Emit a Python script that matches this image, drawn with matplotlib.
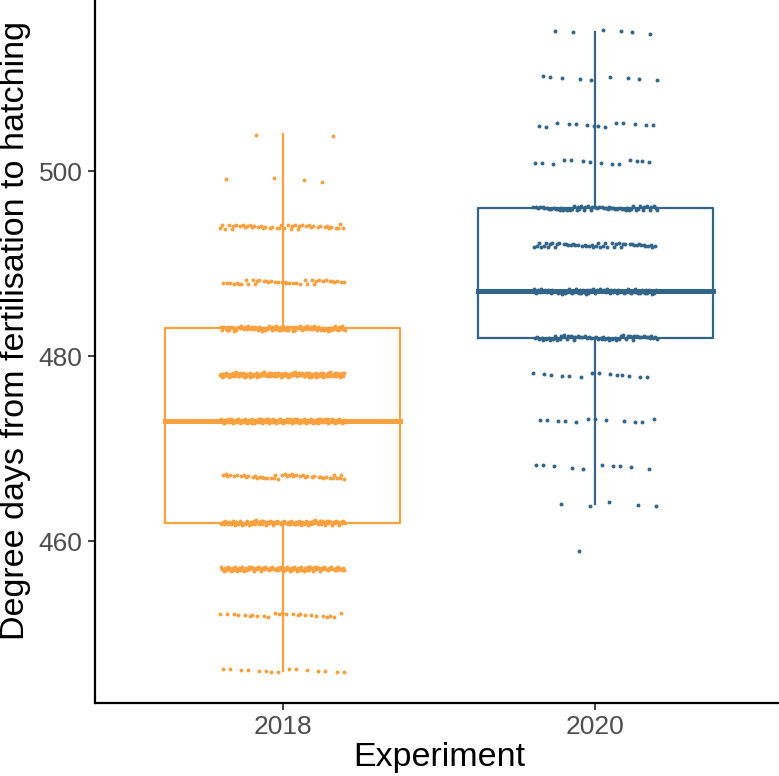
import numpy as np
import matplotlib
matplotlib.use("Agg")
import matplotlib.pyplot as plt

plt.rcParams['font.family'] = ['Liberation Sans', 'DejaVu Sans']

# 各年份的观测值（离散的积温水平）及每个水平的个数
experiments = ["2018", "2020"]
levels_2018 = [446, 452, 457, 462, 467, 473, 478, 483, 488, 494, 499, 504]
counts_2018 = [15, 25, 90, 90, 45, 130, 120, 90, 40, 45, 4, 2]
levels_2020 = [459, 464, 468, 473, 478, 482, 487, 492, 496, 501, 505, 510, 515]
counts_2020 = [1, 5, 10, 12, 14, 60, 80, 50, 60, 14, 14, 9, 6]

# 箱线图统计量：下须、Q1、中位数、Q3、上须
box_2018 = [446, 462, 473, 483, 504]
box_2020 = [464, 482, 487, 496, 515]

colors = ["#F9A03F", "#33658A"]

vals_2018 = np.repeat(levels_2018, counts_2018)
vals_2020 = np.repeat(levels_2020, counts_2020)

fig = plt.figure(figsize=(7.79, 7.76), dpi=100)
ax = fig.add_axes([95 / 779, 73 / 776, 688 / 779, 746 / 776])


def spread(n, phi):
    # 确定性的抖动序列，取值范围 (-0.5, 0.5)
    return (np.arange(n) * phi + 0.37) % 1.0 - 0.5


stats = [box_2018, box_2020]
for i, (vals, st) in enumerate(zip([vals_2018, vals_2020], stats)):
    pos = i + 1
    c = colors[i]
    lo, q1, med, q3, hi = st
    hw = 0.375
    # 箱体
    ax.plot([pos - hw, pos + hw, pos + hw, pos - hw, pos - hw],
            [q1, q1, q3, q3, q1], color=c, lw=1.6, zorder=2)
    ax.plot([pos - hw, pos + hw], [med, med], color=c, lw=3.6, zorder=2)
    # 须
    ax.plot([pos, pos], [q3, hi], color=c, lw=1.6, zorder=2)
    ax.plot([pos, pos], [lo, q1], color=c, lw=1.6, zorder=2)
    # 抖动散点
    n = len(vals)
    jx = spread(n, 0.6180339887) * 0.4
    jy = spread(n, 0.7548776662) * 0.5
    ax.scatter(pos + jx, vals + jy, s=8, color=c, linewidths=0, zorder=3)

ax.set_xlim(0.4, 2.6)
ax.set_ylim(442.5, 442.5 + 746 / 9.25)
ax.set_xticks([1, 2])
ax.set_xticklabels(experiments)
ax.set_yticks([460, 480, 500])

for side in ["top", "right"]:
    ax.spines[side].set_visible(False)
for side in ["left", "bottom"]:
    ax.spines[side].set_linewidth(1.6)
    ax.spines[side].set_color("black")

ax.tick_params(axis="both", length=5, width=1.3, color="#333333",
               labelsize=19, labelcolor="#4D4D4D", pad=4)
ax.set_xlabel("Experiment", fontsize=24.5, labelpad=2)
ax.set_ylabel("Degree days from fertilisation to hatching", fontsize=24.5)
ax.yaxis.set_label_coords(-0.093, 0.5)

fig.savefig("out.png", dpi=100)
